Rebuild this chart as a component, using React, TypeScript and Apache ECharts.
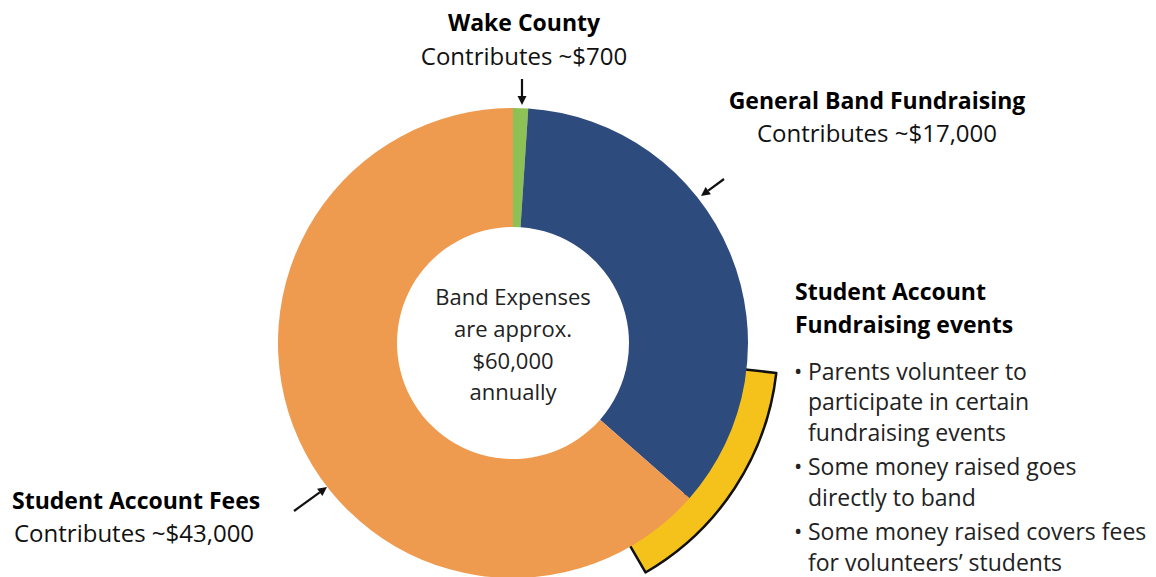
import React, { useEffect, useRef } from "react";
import * as echarts from "echarts";

const categories = ["Wake County", "General Band Fundraising", "Student Account Fees"];
const values = [700, 24000, 43000];
const colors = ["#8DC155", "#2E4B7E", "#EE9A4F"];
// highlighted arc (Student Account Fundraising events), in degrees: [highlight, rest]
const highlightSpan = [53.5, 306.5];

const centerLines = ["Band Expenses", "are approx.", "$60,000", "annually"];
const bulletLines = [
  { bullet: true, text: "Parents volunteer to" },
  { bullet: false, text: "participate in certain" },
  { bullet: false, text: "fundraising events" },
  { bullet: true, text: "Some money raised goes" },
  { bullet: false, text: "directly to band" },
  { bullet: true, text: "Some money raised covers fees" },
  { bullet: false, text: "for volunteers\u2019 students" },
];

const FONT = "'Open Sans', 'Noto Sans', sans-serif";

function txt(text: string, x: number, y: number, size: number, bold: boolean, align: string, color = "#111") {
  return {
    type: "text",
    x,
    y,
    silent: true,
    style: {
      text,
      fontSize: size,
      fontWeight: bold ? "bold" : "normal",
      fontFamily: FONT,
      fill: color,
      align,
      textAlign: align,
      verticalAlign: "middle",
      textVerticalAlign: "middle",
    },
  };
}

function arrow(x1: number, y1: number, x2: number, y2: number) {
  const ang = Math.atan2(y2 - y1, x2 - x1);
  const L = 9;
  const W = 4.5;
  const bx = x2 - L * Math.cos(ang);
  const by = y2 - L * Math.sin(ang);
  const px = -Math.sin(ang) * W;
  const py = Math.cos(ang) * W;
  return [
    {
      type: "line",
      silent: true,
      shape: { x1, y1, x2: bx, y2: by },
      style: { stroke: "#111", lineWidth: 2.2 },
    },
    {
      type: "polygon",
      silent: true,
      shape: { points: [[x2, y2], [bx + px, by + py], [bx - px, by - py]] },
      style: { fill: "#111" },
    },
  ];
}

export default function App() {
  const ref = useRef<HTMLDivElement>(null);
  useEffect(() => {
    document.body.style.margin = "0";
    if (!ref.current) return;
    const chart = echarts.init(ref.current, undefined, { renderer: "svg" });

    const graphics: any[] = [];
    graphics.push(txt("Wake County", 524, 22, 23, true, "center", "#000"));
    graphics.push(txt("Contributes ~$700", 524, 55, 24, false, "center"));
    graphics.push(txt("General Band Fundraising", 877, 100, 23, true, "center", "#000"));
    graphics.push(txt("Contributes ~$17,000", 877, 132, 24, false, "center"));
    graphics.push(txt("Student Account", 795, 291, 23, true, "left", "#000"));
    graphics.push(txt("Fundraising events", 795, 324, 23, true, "left", "#000"));
    graphics.push(txt("Student Account Fees", 12, 500, 23, true, "left", "#000"));
    graphics.push(txt("Contributes ~$43,000", 14, 532, 24, false, "left"));
    const bulletY = [371, 401, 432, 466, 497, 531, 562];
    bulletLines.forEach((b, i) => {
      if (b.bullet) graphics.push(txt("\u2022", 794, bulletY[i] - 1, 22, false, "left", "#222"));
      graphics.push(txt(b.text, 808, bulletY[i], 23, false, "left", "#222"));
    });
    const centerY = [296, 328, 360, 391];
    centerLines.forEach((l, i) => graphics.push(txt(l, 513, centerY[i], 22, false, "center", "#222")));
    graphics.push(...arrow(522, 79, 522, 105));
    graphics.push(...arrow(724, 179, 701, 196));
    graphics.push(...arrow(294, 511, 327, 487));

    chart.setOption({
      animation: false,
      series: [
        {
          type: "pie",
          silent: true,
          center: [513, 343],
          radius: [229, 265],
          startAngle: -6.5,
          clockwise: true,
          label: { show: false },
          labelLine: { show: false },
          emphasis: { disabled: true },
          data: [
            { value: highlightSpan[0], name: "Fundraising events", itemStyle: { color: "#F5C21B", borderColor: "#111", borderWidth: 2.5 } },
            { value: highlightSpan[1], name: "", itemStyle: { color: "rgba(0,0,0,0)", borderWidth: 0 } },
          ],
        },
        {
          type: "pie",
          silent: true,
          center: [513, 343],
          radius: [116, 235],
          startAngle: 90,
          clockwise: true,
          label: { show: false },
          labelLine: { show: false },
          emphasis: { disabled: true },
          itemStyle: { borderWidth: 0 },
          data: categories.map((c, i) => ({ name: c, value: values[i], itemStyle: { color: colors[i] } })),
        },
      ],
      graphic: { elements: graphics },
    });
    return () => chart.dispose();
  }, []);
  return <div ref={ref} style={{ width: 1156, height: 577 }} />;
}
